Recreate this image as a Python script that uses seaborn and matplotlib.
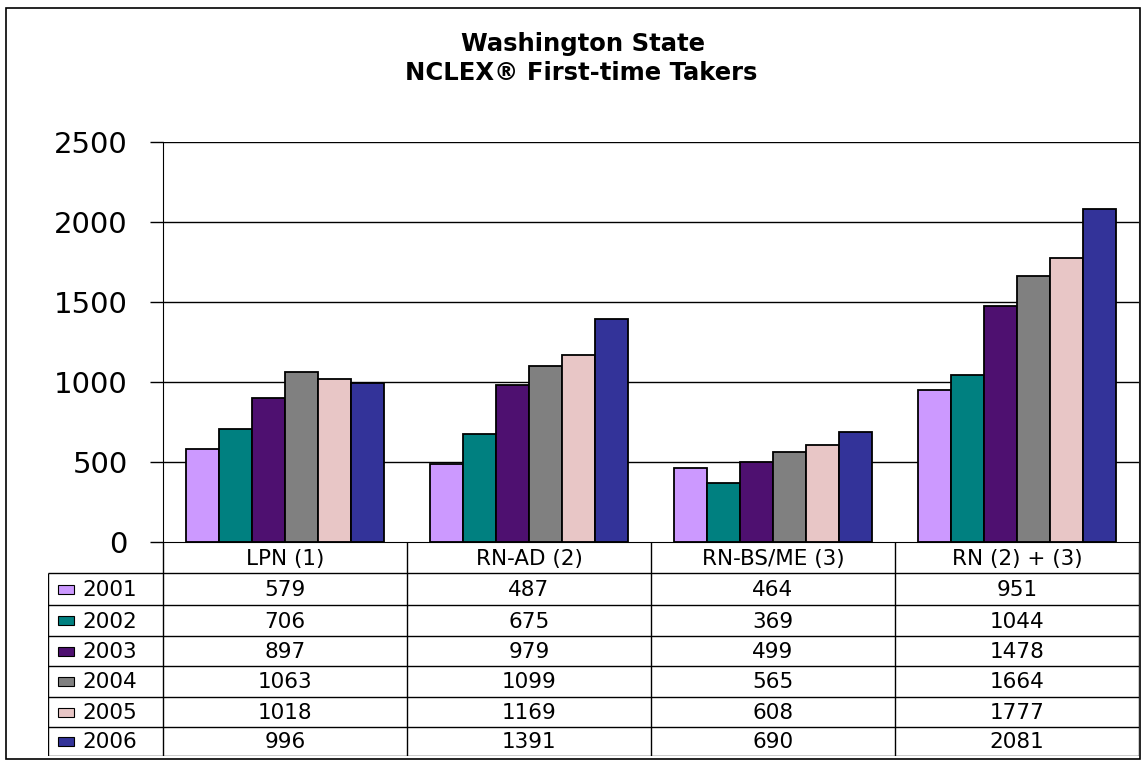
import pandas as pd
import numpy as np
import matplotlib
matplotlib.use("Agg")
import matplotlib.pyplot as plt
from matplotlib.patches import Rectangle
import seaborn as sns

# ── data ──────────────────────────────────────────
categories = ["LPN (1)", "RN-AD (2)", "RN-BS/ME (3)", "RN (2) + (3)"]
years = ["2001", "2002", "2003", "2004", "2005", "2006"]
v2001 = [579, 487, 464, 951]
v2002 = [706, 675, 369, 1044]
v2003 = [897, 979, 499, 1478]
v2004 = [1063, 1099, 565, 1664]
v2005 = [1018, 1169, 608, 1777]
v2006 = [996, 1391, 690, 2081]
colors = ["#CC99FF", "#008080", "#4E1070", "#808080", "#E8C6C6", "#333399"]
yticks = [0, 500, 1000, 1500, 2000, 2500]

series = [v2001, v2002, v2003, v2004, v2005, v2006]
rows = []
for yr, vals in zip(years, series):
    for cat, v in zip(categories, vals):
        rows.append({"category": cat, "year": yr, "value": v})
df = pd.DataFrame(rows)

# ── figure ────────────────────────────────────────
sns.set_style("white")
plt.rcParams["font.family"] = ["DejaVu Sans"]
plt.rcParams["text.color"] = "black"
plt.rcParams["ytick.color"] = "black"
plt.rcParams["ytick.labelcolor"] = "black"

W, H = 1143, 763
fig = plt.figure(figsize=(W / 100, H / 100), dpi=100)

# outer frame
fig.add_artist(Rectangle((6 / W, 1 - 759 / H), (1140 - 6) / W, (759 - 8) / H,
                         transform=fig.transFigure, fill=False,
                         edgecolor="black", linewidth=1.2))

fig.text(583 / W, 1 - 44 / H, "Washington State", ha="center", va="center",
         fontsize=17.5, fontweight="bold")
fig.text(581 / W, 1 - 73 / H, "NCLEX® First-time Takers", ha="center",
         va="center", fontsize=17.5, fontweight="bold")

# plot area in pixels
L, R, T, B = 163, 1139, 142, 542
ax = fig.add_axes([L / W, 1 - B / H, (R - L) / W, (B - T) / H])

sns.barplot(data=df, x="category", y="value", hue="year",
            order=categories, hue_order=years, palette=colors,
            saturation=1, width=0.81, edgecolor="black", linewidth=1.3,
            legend=False, ax=ax, errorbar=None)

ax.set_xlim(-0.5, len(categories) - 0.5)
ax.set_ylim(0, 2500)
ax.set_yticks(yticks)
ax.set_yticklabels([str(t) for t in yticks], fontsize=21)
ax.set_xticks([])
ax.set_xlabel("")
ax.set_ylabel("")
ax.tick_params(axis="y", direction="out", length=9.5, width=1, pad=16,
               left=True, colors="black")
for t in yticks[1:]:
    ax.axhline(t, color="black", linewidth=1, zorder=0)
ax.spines["top"].set_visible(False)
ax.spines["right"].set_color("#999999")
ax.spines["left"].set_color("black")
ax.spines["bottom"].set_color("black")

# ── data table ────────────────────────────────────
TL, TB = 48, 756
px_per_unit = (R - L) / len(categories)
x_left = -0.5 - (L - TL) / px_per_unit
tax = fig.add_axes([TL / W, 1 - TB / H, (R - TL) / W, (TB - B) / H])
tax.set_xlim(x_left, len(categories) - 0.5)
tax.set_ylim(TB - B, 0)
tax.axis("off")

row_edges = [0, 31, 63, 94, 124, 155, 185, 214]
lw = 1.0
# vertical lines
tax.vlines(-0.5, 0, row_edges[-1], color="black", linewidth=lw)
for i in range(1, len(categories)):
    tax.vlines(i - 0.5, 0, row_edges[-1], color="black", linewidth=lw)
tax.vlines(len(categories) - 0.5, 0, row_edges[-1], color="black", linewidth=lw)
tax.vlines(x_left + 0.002, row_edges[1], row_edges[-1], color="black", linewidth=lw)
# horizontal lines
for e in row_edges[1:]:
    tax.hlines(e, x_left, len(categories) - 0.5, color="black", linewidth=lw)

# header
for i, cat in enumerate(categories):
    tax.text(i, (row_edges[0] + row_edges[1]) / 2 + 1, cat, ha="center",
             va="center", fontsize=15.5, color="black")

key_x = x_left + 10 / px_per_unit
key_w = 16 / px_per_unit
for r, (yr, vals, c) in enumerate(zip(years, series, colors)):
    yc = (row_edges[r + 1] + row_edges[r + 2]) / 2
    tax.add_patch(Rectangle((key_x, yc - 4.5), key_w, 9, facecolor=c,
                            edgecolor="black", linewidth=0.8))
    tax.text(x_left + 34 / px_per_unit, yc + 1, yr, ha="left", va="center",
             fontsize=15.5, color="black")
    for i, v in enumerate(vals):
        tax.text(i, yc + 1, str(v), ha="center", va="center", fontsize=15.5,
                 color="black")

fig.savefig("out.png", dpi=100)
